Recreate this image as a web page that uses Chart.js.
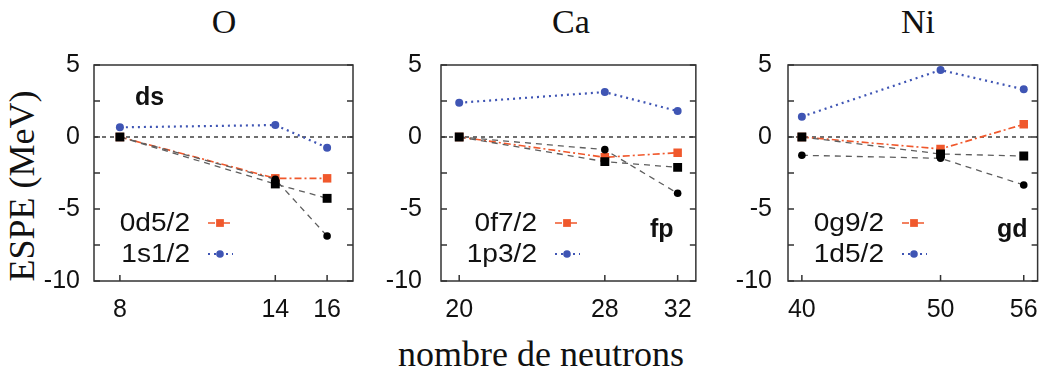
<!DOCTYPE html>
<html>
<head>
<meta charset="utf-8">
<script src="https://cdn.jsdelivr.net/npm/chart.js@4/dist/chart.umd.min.js"></script>
<style>
  body { margin: 0; background: #fff; width: 1052px; height: 374px; overflow: hidden; position: relative; }
  canvas { position: absolute; top: 0; }
  .serif { position: absolute; font-family: "Liberation Serif", "Times New Roman", serif; color: #111; white-space: nowrap; }
  .ttl { font-size: 34px; top: 3px; transform: translateX(-50%); }
  #ylab { font-size: 36px; left: 22px; top: 186px; transform: translate(-50%, -50%) rotate(-90deg); }
  #xlab { font-size: 36px; left: 541px; top: 333px; transform: translateX(-50%); }
</style>
</head>
<body>
<div class="serif ttl" style="left:224px">O</div>
<div class="serif ttl" style="left:571px">Ca</div>
<div class="serif ttl" style="left:918px">Ni</div>
<div class="serif" id="ylab">ESPE (MeV)</div>
<div class="serif" id="xlab">nombre de neutrons</div>

<canvas id="cO" width="360" height="374" style="left:0px"></canvas>
<canvas id="cCa" width="346" height="374" style="left:360px"></canvas>
<canvas id="cNi" width="346" height="374" style="left:706px"></canvas>

<script>
// neutron numbers (x ticks) for each panel
const neutronsO = [8, 14, 16];
const neutronsCa = [20, 28, 32];
const neutronsNi = [40, 50, 56];

// ESPE values (MeV)
const oRed = [0, -2.87, -2.87];      // 0d5/2
const oBlue = [0.67, 0.83, -0.74];   // 1s1/2
const oBlackSq = [0, -3.26, -4.26];
const oBlackDot = [0, -2.94, -6.88];

const caRed = [0, -1.41, -1.09];     // 0f7/2
const caBlue = [2.38, 3.12, 1.80];   // 1p3/2
const caBlackSq = [0, -1.71, -2.11];
const caBlackDot = [0, -0.88, -3.91];

const niRed = [0, -0.83, 0.88];      // 0g9/2
const niBlue = [1.41, 4.65, 3.31];   // 1d5/2
const niBlackSq = [0, -1.18, -1.32];
const niBlackDot = [-1.27, -1.48, -3.33];

const yTicks = [5, 2.5, 0, -2.5, -5, -7.5, -10];

const RED = '#f0582c';
const BLUE = '#3f55b4';
const GREY = '#5e5e5e';
const SANS = '"Liberation Sans", Arial, sans-serif';

function pts(xs, ys) {
    return xs.map((x, i) => ({ x: x, y: ys[i] }));
}

function drawMarker(ctx, style, x, y, r, color) {
    ctx.fillStyle = color;
    ctx.beginPath();
    if (style === 'rect') {
        const s = r * Math.SQRT1_2;
        ctx.rect(x - s, y - s, 2 * s, 2 * s);
    } else {
        ctx.arc(x, y, r, 0, Math.PI * 2);
    }
    ctx.fill();
}

// zero line, frame, inward ticks, legend and shell label
const panelDeco = {
    id: 'panelDeco',
    beforeDatasetsDraw(chart) {
        const { ctx, chartArea: a, scales: { y } } = chart;
        const y0 = y.getPixelForValue(0);
        ctx.save();
        ctx.strokeStyle = '#111';
        ctx.lineWidth = 1.2;
        ctx.setLineDash([4, 4]);
        ctx.beginPath();
        ctx.moveTo(a.left, y0);
        ctx.lineTo(a.right, y0);
        ctx.stroke();
        ctx.restore();
    },
    afterDraw(chart, args, opts) {
        const { ctx, chartArea: a, scales: { x, y } } = chart;
        ctx.save();
        ctx.strokeStyle = '#333';
        ctx.lineWidth = 1.5;
        ctx.strokeRect(a.left, a.top, a.right - a.left, a.bottom - a.top);
        ctx.beginPath();
        x.ticks.forEach(t => {
            const px = x.getPixelForValue(t.value);
            ctx.moveTo(px, a.bottom);
            ctx.lineTo(px, a.bottom - 6);
        });
        y.ticks.forEach(t => {
            const py = y.getPixelForValue(t.value);
            ctx.moveTo(a.left, py);
            ctx.lineTo(a.left + 6, py);
            ctx.moveTo(a.right, py);
            ctx.lineTo(a.right - 6, py);
        });
        ctx.stroke();

        // legend (text slightly widened like the original's Helvetica)
        opts.entries.forEach((e, i) => {
            const ly = a.top + 158 + i * 31;
            ctx.save();
            ctx.font = '26px ' + SANS;
            ctx.textAlign = 'right';
            ctx.textBaseline = 'middle';
            ctx.fillStyle = '#111';
            ctx.translate(a.left + 96, ly + 1);
            ctx.scale(1.08, 1);
            ctx.fillText(e.text, 0, 0);
            ctx.restore();
            ctx.strokeStyle = e.color;
            ctx.lineWidth = e.width;
            ctx.setLineDash(e.dash);
            ctx.beginPath();
            ctx.moveTo(a.left + 114, ly);
            ctx.lineTo(a.left + 139, ly);
            ctx.stroke();
            ctx.setLineDash([]);
            drawMarker(ctx, e.style, a.left + 126, ly, e.radius, e.color);
        });

        // shell label
        ctx.font = 'bold 25px ' + SANS;
        ctx.textAlign = 'left';
        ctx.textBaseline = 'middle';
        ctx.fillStyle = '#111';
        ctx.fillText(opts.label, a.left + opts.labelX, a.top + opts.labelY);
        ctx.restore();
    }
};

function makePanel(id, xs, red, blue, sq, dot, xmin, xmax, yAxisW, tickPad, padRight, redName, blueName, label, labelX, labelY) {
    const redStyle = { color: RED, dash: [7, 3, 2, 3], width: 1.6, style: 'rect', radius: 5.5 };
    const blueStyle = { color: BLUE, dash: [2, 4], width: 2.2, style: 'circle', radius: 3.8 };
    new Chart(document.getElementById(id), {
        type: 'line',
        data: {
            datasets: [
                { data: pts(xs, sq), borderColor: GREY, borderWidth: 1.3, borderDash: [6, 5], pointStyle: 'rect', pointRadius: 6.3, pointBackgroundColor: '#000', pointBorderWidth: 0 },
                { data: pts(xs, dot), borderColor: GREY, borderWidth: 1.3, borderDash: [6, 5], pointStyle: 'circle', pointRadius: 3.8, pointBackgroundColor: '#000', pointBorderWidth: 0 },
                { data: pts(xs, red), borderColor: RED, borderWidth: redStyle.width, borderDash: redStyle.dash, pointStyle: 'rect', pointRadius: 6, pointBackgroundColor: RED, pointBorderWidth: 0 },
                { data: pts(xs, blue), borderColor: BLUE, borderWidth: blueStyle.width, borderDash: blueStyle.dash, pointStyle: 'circle', pointRadius: 4, pointBackgroundColor: BLUE, pointBorderWidth: 0 }
            ]
        },
        options: {
            responsive: false,
            animation: false,
            layout: { padding: { top: 65, left: 0, right: padRight, bottom: 48 } },
            plugins: {
                legend: { display: false },
                tooltip: { enabled: false },
                panelDeco: {
                    entries: [
                        Object.assign({ text: redName }, redStyle),
                        Object.assign({ text: blueName }, blueStyle)
                    ],
                    label: label, labelX: labelX, labelY: labelY
                }
            },
            scales: {
                x: {
                    type: 'linear', min: xmin, max: xmax,
                    afterBuildTicks: s => { s.ticks = xs.map(v => ({ value: v })); },
                    afterFit: s => { s.height = 45; },
                    grid: { display: false, drawTicks: false },
                    border: { display: false },
                    ticks: { color: '#111', padding: 14, font: { family: SANS, size: 25 } }
                },
                y: {
                    min: -10, max: 5,
                    afterBuildTicks: s => { s.ticks = yTicks.map(v => ({ value: v })); },
                    afterFit: s => { s.width = yAxisW; },
                    grid: { display: false, drawTicks: false },
                    border: { display: false },
                    ticks: {
                        color: '#111', padding: tickPad,
                        font: { family: SANS, size: 25 },
                        callback: v => (v % 5 === 0 ? String(v) : '')
                    }
                }
            }
        },
        plugins: [panelDeco]
    });
}

makePanel('cO', neutronsO, oRed, oBlue, oBlackSq, oBlackDot, 7, 17, 94, 14, 7, '0d5/2', '1s1/2', 'ds', 41, 33);
makePanel('cCa', neutronsCa, caRed, caBlue, caBlackSq, caBlackDot, 19, 33, 81, 19, 5, '0f7/2', '1p3/2', 'fp', 209, 165);
makePanel('cNi', neutronsNi, niRed, niBlue, niBlackSq, niBlackDot, 39, 57, 82, 16, 5, '0g9/2', '1d5/2', 'gd', 209, 165);
</script>
</body>
</html>
